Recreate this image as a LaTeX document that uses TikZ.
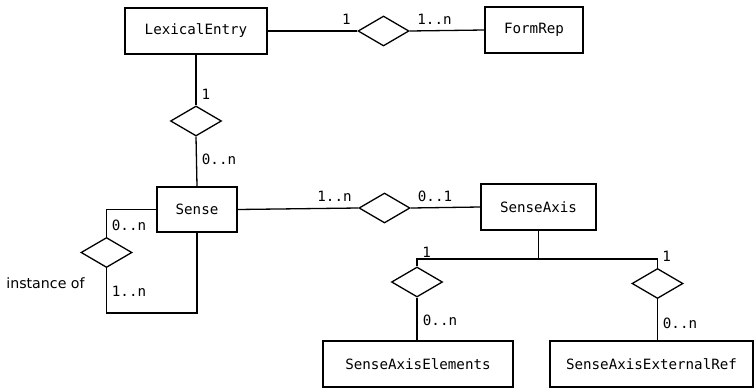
\documentclass[tikz,border=0pt]{standalone}
\usepackage{fontspec}
\setmainfont{DejaVu Sans}
\setmonofont{DejaVu Sans Mono}
\usetikzlibrary{shapes.geometric}
\tikzset{
  ent/.style={draw, line width=1.3pt, rectangle, inner sep=0pt, font=\ttfamily\fontsize{14.2}{17}\selectfont},
  rel/.style={draw, line width=1.3pt, diamond, inner sep=0pt, minimum width=51pt, minimum height=30pt},
  card/.style={inner sep=0pt, font=\ttfamily\fontsize{14.2}{17}\selectfont},
  conn/.style={line width=1.3pt}
}
\begin{document}
\begin{tikzpicture}[x=1pt,y=-1pt]
\useasboundingbox (0,0) rectangle (754,388);
% entities
\node[ent, minimum width=142pt, minimum height=46pt] (lex) at (196,31) {LexicalEntry};
\node[ent, minimum width=98pt, minimum height=46pt] (form) at (534,30) {FormRep};
\node[ent, minimum width=80pt, minimum height=45pt] (sense) at (197,209.5) {Sense};
\node[ent, minimum width=115pt, minimum height=46pt] (sa) at (538.5,207) {SenseAxis};
\node[ent, minimum width=190pt, minimum height=46pt] (sae) at (418,364) {SenseAxisElements};
\node[ent, minimum width=203pt, minimum height=46pt] (saer) at (651.5,364) {SenseAxisExternalRef};
% relationships
\node[rel] (r1) at (383.5,31) {};
\node[rel] (r2) at (196,121) {};
\node[rel] (r3) at (106.5,252.5) {};
\node[rel] (r4) at (384.5,208) {};
\node[rel] (r5) at (417,282) {};
\node[rel] (r6) at (657.5,283.5) {};
% connectors
\draw[conn] (lex.east) -- (r1.west);
\draw[conn] (r1.east) -- (form.west);
\draw[conn] (lex.south) -- (r2.north);
\draw[conn] (r2.south) -- (sense.north);
\draw[conn] (sense.west) -| (r3.north);
\coordinate (lp) at (106.5,313);
\draw[conn] (r3.south) -- (lp) -| (sense.south);
\draw[conn] (sense.east) -- (r4.west);
\draw[conn] (r4.east) -- (sa.west);
\coordinate (j) at (538.5,259);
\draw[conn] (sa.south) -- (j);
\draw[conn] (r5.north) |- (j) -| (r6.north);
\draw[conn] (r5.south) -- (r5.south |- sae.north);
\draw[conn] (r6.south) -- (r6.south |- saer.north);
% cardinalities
\node[card] (c1) at (346.5,19) {1};
\node[card] (c2) at (434.5,19) {1..n};
\node[card] (c3) at (206,94) {1};
\node[card] (c4) at (219,159) {0..n};
\node[card] (c5) at (129,225) {0..n};
\node[card] (c6) at (129,291) {1..n};
\node[inner sep=0pt, font=\fontsize{14.2}{17}\selectfont] (io) at (45.5,283) {instance of};
\node[card] (c7) at (334.5,196.5) {1..n};
\node[card] (c8) at (435,196.5) {0..1};
\node[card] (c9) at (426.7,252.7) {1};
\node[card] (c10) at (666.7,256.7) {1};
\node[card] (c11) at (440,320) {0..n};
\node[card] (c12) at (680,323) {0..n};
\end{tikzpicture}
\end{document}
